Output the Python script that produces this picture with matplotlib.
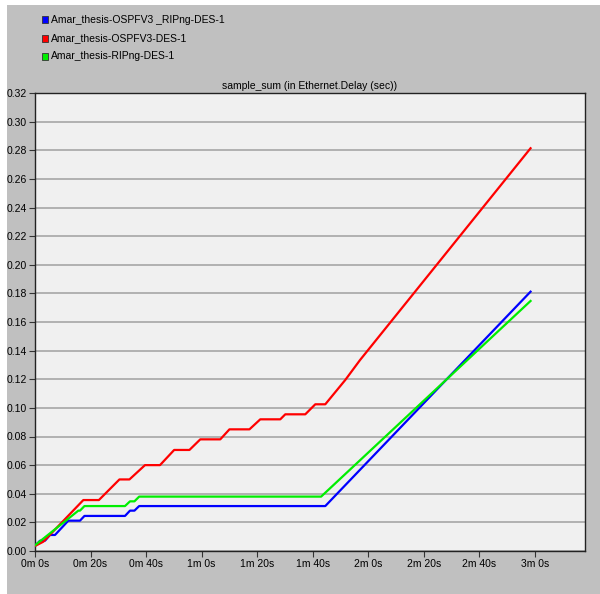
import matplotlib
matplotlib.use('Agg')
import matplotlib.pyplot as plt
from matplotlib.patches import Rectangle

# time in seconds, values in sec
blue_t = [0, 1.8, 3.6, 5.4, 7.2, 12.0, 16.2, 17.8, 32.4, 34.2, 35.8, 37.5, 104.5, 178.4]
blue_v = [0.0035, 0.0072, 0.0072, 0.0112, 0.0112, 0.0212, 0.0212, 0.0245, 0.0245,
          0.0282, 0.0282, 0.0314, 0.0314, 0.1812]

red_t = [0, 3.0, 17.4, 23.0, 30.4, 34.0, 39.6, 45.0, 50.1, 55.6, 59.5, 66.7, 70.0,
         77.2, 81.1, 88.3, 90.1, 97.3, 100.9, 104.5, 111.7, 117.0, 178.4]
red_v = [0.0035, 0.0065, 0.0356, 0.0356, 0.0500, 0.0500, 0.0600, 0.0600, 0.0706,
         0.0706, 0.0780, 0.0780, 0.0850, 0.0850, 0.0920, 0.0920, 0.0955, 0.0955,
         0.1025, 0.1025, 0.1195, 0.1334, 0.2814]

green_t = [0, 15.6, 16.2, 17.8, 32.4, 34.2, 35.8, 37.5, 103.0, 178.4]
green_v = [0.0040, 0.0282, 0.0282, 0.0314, 0.0314, 0.0347, 0.0347, 0.0380, 0.0380, 0.1747]

series = [
    ('Amar_thesis-OSPFV3 _RIPng-DES-1', '#0000ff', blue_t, blue_v),
    ('Amar_thesis-OSPFV3-DES-1', '#ff0000', red_t, red_v),
    ('Amar_thesis-RIPng-DES-1', '#00ee00', green_t, green_v),
]

xticks = [0, 20, 40, 60, 80, 100, 120, 140, 160, 180]
xlabels = ['0m 0s', '0m 20s', '0m 40s', '1m 0s', '1m 20s', '1m 40s',
           '2m 0s', '2m 20s', '2m 40s', '3m 0s']
yticks = [i * 0.02 for i in range(17)]

plt.rcParams['font.family'] = ['Liberation Sans Narrow', 'Liberation Sans', 'DejaVu Sans']

fig = plt.figure(figsize=(6, 5.94), dpi=100, facecolor='white')
# gray panel with thin white strip at left and top
fig.patches.append(Rectangle((7 / 600, 0), 1, 1 - 5 / 594, transform=fig.transFigure,
                             facecolor='#c0c0c0', edgecolor='none', zorder=-5))

ax = fig.add_axes([35 / 600, 1 - 551 / 594, 550 / 600, 458 / 594])
ax.set_facecolor('#f0f0f0')

for name, color, t, v in series:
    ax.plot(t, v, color=color, lw=1.6, zorder=3)

ax.set_xlim(0, 198)
ax.set_ylim(0, 0.32)
ax.set_xticks(xticks)
ax.set_xticklabels(xlabels)
ax.set_yticks(yticks)
ax.set_yticklabels(['%.2f' % y for y in yticks])
ax.tick_params(labelsize=7.5, length=4, width=0.8, color='#333333', pad=2)
ax.grid(axis='y', color='#a0a0a0', lw=1.1)
ax.set_axisbelow(True)
for s in ax.spines.values():
    s.set_color('#222222')
    s.set_linewidth(1.0)

ax.set_title('sample_sum (in Ethernet.Delay (sec))', fontsize=7.5, pad=3, x=0.5)

# legend drawn as small squares with text
for i, (name, color, t, v) in enumerate(series):
    y = 1 - (20 + 18 * i) / 594
    fig.patches.append(Rectangle((42 / 600, y - 3.5 / 594), 6 / 600, 7 / 594,
                                 transform=fig.transFigure, facecolor=color,
                                 edgecolor='#333333', lw=0.6, zorder=2))
    fig.text(51 / 600, y, name, fontsize=7.5, va='center', ha='left')

fig.savefig('out.png', dpi=100, facecolor=fig.get_facecolor())
